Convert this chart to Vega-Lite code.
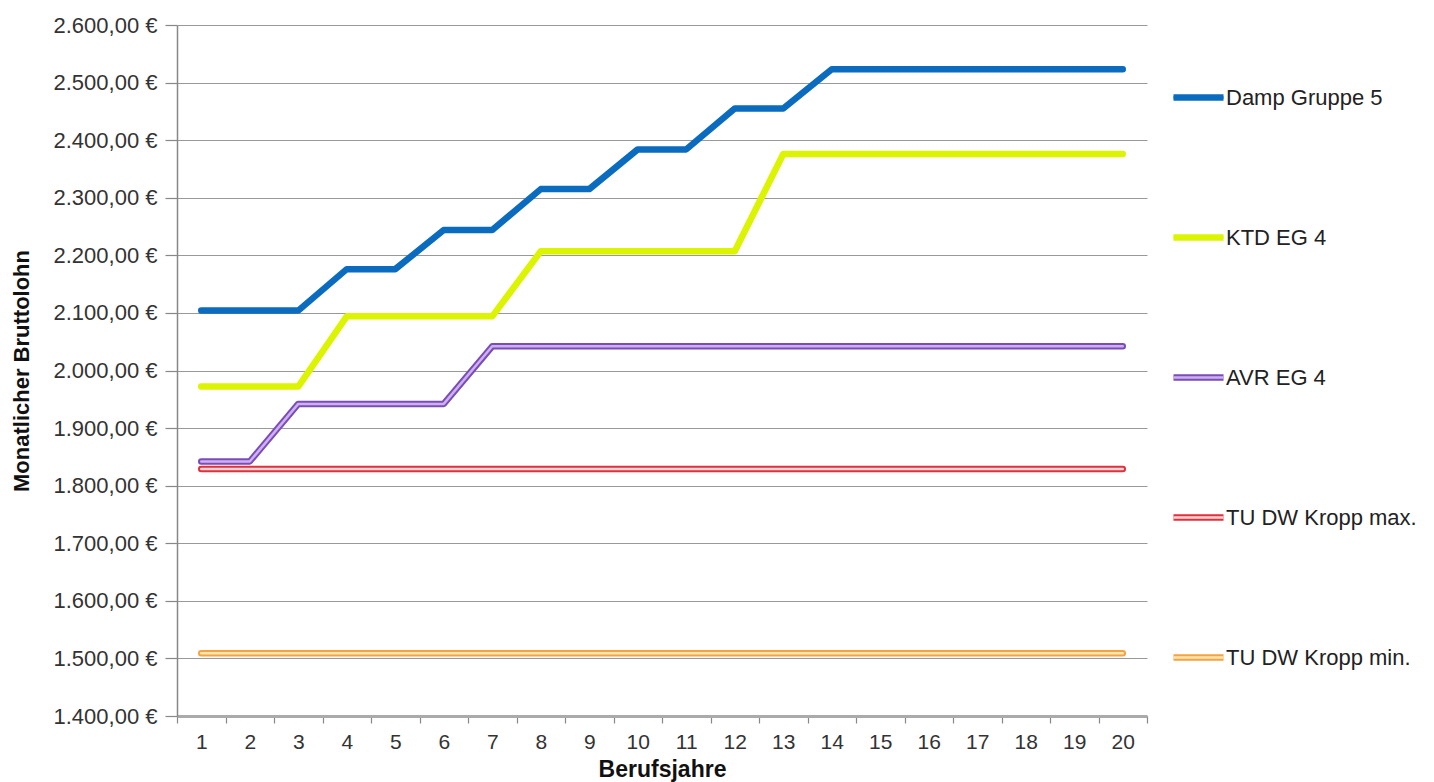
{
  "$schema": "https://vega.github.io/schema/vega-lite/v6.json",
  "width": 970,
  "height": 691,
  "autosize": {"type": "none"},
  "padding": {"left": 177, "top": 25, "right": 287, "bottom": 66},
  "background": "white",
  "config": {
    "font": "Liberation Sans",
    "view": {"stroke": null},
    "axis": {"labelFont": "Liberation Sans", "titleFont": "Liberation Sans", "labelColor": "#333333", "titleColor": "#111111"}
  },
  "data": {
    "values": [
      {"jahr": 1, "serie": "Damp Gruppe 5", "wert": 2104},
      {"jahr": 2, "serie": "Damp Gruppe 5", "wert": 2104},
      {"jahr": 3, "serie": "Damp Gruppe 5", "wert": 2104},
      {"jahr": 4, "serie": "Damp Gruppe 5", "wert": 2176},
      {"jahr": 5, "serie": "Damp Gruppe 5", "wert": 2176},
      {"jahr": 6, "serie": "Damp Gruppe 5", "wert": 2244},
      {"jahr": 7, "serie": "Damp Gruppe 5", "wert": 2244},
      {"jahr": 8, "serie": "Damp Gruppe 5", "wert": 2315},
      {"jahr": 9, "serie": "Damp Gruppe 5", "wert": 2315},
      {"jahr": 10, "serie": "Damp Gruppe 5", "wert": 2384},
      {"jahr": 11, "serie": "Damp Gruppe 5", "wert": 2384},
      {"jahr": 12, "serie": "Damp Gruppe 5", "wert": 2455},
      {"jahr": 13, "serie": "Damp Gruppe 5", "wert": 2455},
      {"jahr": 14, "serie": "Damp Gruppe 5", "wert": 2523},
      {"jahr": 15, "serie": "Damp Gruppe 5", "wert": 2523},
      {"jahr": 16, "serie": "Damp Gruppe 5", "wert": 2523},
      {"jahr": 17, "serie": "Damp Gruppe 5", "wert": 2523},
      {"jahr": 18, "serie": "Damp Gruppe 5", "wert": 2523},
      {"jahr": 19, "serie": "Damp Gruppe 5", "wert": 2523},
      {"jahr": 20, "serie": "Damp Gruppe 5", "wert": 2523},
      {"jahr": 1, "serie": "KTD EG 4", "wert": 1972},
      {"jahr": 2, "serie": "KTD EG 4", "wert": 1972},
      {"jahr": 3, "serie": "KTD EG 4", "wert": 1972},
      {"jahr": 4, "serie": "KTD EG 4", "wert": 2094},
      {"jahr": 5, "serie": "KTD EG 4", "wert": 2094},
      {"jahr": 6, "serie": "KTD EG 4", "wert": 2094},
      {"jahr": 7, "serie": "KTD EG 4", "wert": 2094},
      {"jahr": 8, "serie": "KTD EG 4", "wert": 2207},
      {"jahr": 9, "serie": "KTD EG 4", "wert": 2207},
      {"jahr": 10, "serie": "KTD EG 4", "wert": 2207},
      {"jahr": 11, "serie": "KTD EG 4", "wert": 2207},
      {"jahr": 12, "serie": "KTD EG 4", "wert": 2207},
      {"jahr": 13, "serie": "KTD EG 4", "wert": 2376},
      {"jahr": 14, "serie": "KTD EG 4", "wert": 2376},
      {"jahr": 15, "serie": "KTD EG 4", "wert": 2376},
      {"jahr": 16, "serie": "KTD EG 4", "wert": 2376},
      {"jahr": 17, "serie": "KTD EG 4", "wert": 2376},
      {"jahr": 18, "serie": "KTD EG 4", "wert": 2376},
      {"jahr": 19, "serie": "KTD EG 4", "wert": 2376},
      {"jahr": 20, "serie": "KTD EG 4", "wert": 2376},
      {"jahr": 1, "serie": "AVR EG 4", "wert": 1842},
      {"jahr": 2, "serie": "AVR EG 4", "wert": 1842},
      {"jahr": 3, "serie": "AVR EG 4", "wert": 1942},
      {"jahr": 4, "serie": "AVR EG 4", "wert": 1942},
      {"jahr": 5, "serie": "AVR EG 4", "wert": 1942},
      {"jahr": 6, "serie": "AVR EG 4", "wert": 1942},
      {"jahr": 7, "serie": "AVR EG 4", "wert": 2042},
      {"jahr": 8, "serie": "AVR EG 4", "wert": 2042},
      {"jahr": 9, "serie": "AVR EG 4", "wert": 2042},
      {"jahr": 10, "serie": "AVR EG 4", "wert": 2042},
      {"jahr": 11, "serie": "AVR EG 4", "wert": 2042},
      {"jahr": 12, "serie": "AVR EG 4", "wert": 2042},
      {"jahr": 13, "serie": "AVR EG 4", "wert": 2042},
      {"jahr": 14, "serie": "AVR EG 4", "wert": 2042},
      {"jahr": 15, "serie": "AVR EG 4", "wert": 2042},
      {"jahr": 16, "serie": "AVR EG 4", "wert": 2042},
      {"jahr": 17, "serie": "AVR EG 4", "wert": 2042},
      {"jahr": 18, "serie": "AVR EG 4", "wert": 2042},
      {"jahr": 19, "serie": "AVR EG 4", "wert": 2042},
      {"jahr": 20, "serie": "AVR EG 4", "wert": 2042},
      {"jahr": 1, "serie": "TU DW Kropp max.", "wert": 1829},
      {"jahr": 2, "serie": "TU DW Kropp max.", "wert": 1829},
      {"jahr": 3, "serie": "TU DW Kropp max.", "wert": 1829},
      {"jahr": 4, "serie": "TU DW Kropp max.", "wert": 1829},
      {"jahr": 5, "serie": "TU DW Kropp max.", "wert": 1829},
      {"jahr": 6, "serie": "TU DW Kropp max.", "wert": 1829},
      {"jahr": 7, "serie": "TU DW Kropp max.", "wert": 1829},
      {"jahr": 8, "serie": "TU DW Kropp max.", "wert": 1829},
      {"jahr": 9, "serie": "TU DW Kropp max.", "wert": 1829},
      {"jahr": 10, "serie": "TU DW Kropp max.", "wert": 1829},
      {"jahr": 11, "serie": "TU DW Kropp max.", "wert": 1829},
      {"jahr": 12, "serie": "TU DW Kropp max.", "wert": 1829},
      {"jahr": 13, "serie": "TU DW Kropp max.", "wert": 1829},
      {"jahr": 14, "serie": "TU DW Kropp max.", "wert": 1829},
      {"jahr": 15, "serie": "TU DW Kropp max.", "wert": 1829},
      {"jahr": 16, "serie": "TU DW Kropp max.", "wert": 1829},
      {"jahr": 17, "serie": "TU DW Kropp max.", "wert": 1829},
      {"jahr": 18, "serie": "TU DW Kropp max.", "wert": 1829},
      {"jahr": 19, "serie": "TU DW Kropp max.", "wert": 1829},
      {"jahr": 20, "serie": "TU DW Kropp max.", "wert": 1829},
      {"jahr": 1, "serie": "TU DW Kropp min.", "wert": 1509},
      {"jahr": 2, "serie": "TU DW Kropp min.", "wert": 1509},
      {"jahr": 3, "serie": "TU DW Kropp min.", "wert": 1509},
      {"jahr": 4, "serie": "TU DW Kropp min.", "wert": 1509},
      {"jahr": 5, "serie": "TU DW Kropp min.", "wert": 1509},
      {"jahr": 6, "serie": "TU DW Kropp min.", "wert": 1509},
      {"jahr": 7, "serie": "TU DW Kropp min.", "wert": 1509},
      {"jahr": 8, "serie": "TU DW Kropp min.", "wert": 1509},
      {"jahr": 9, "serie": "TU DW Kropp min.", "wert": 1509},
      {"jahr": 10, "serie": "TU DW Kropp min.", "wert": 1509},
      {"jahr": 11, "serie": "TU DW Kropp min.", "wert": 1509},
      {"jahr": 12, "serie": "TU DW Kropp min.", "wert": 1509},
      {"jahr": 13, "serie": "TU DW Kropp min.", "wert": 1509},
      {"jahr": 14, "serie": "TU DW Kropp min.", "wert": 1509},
      {"jahr": 15, "serie": "TU DW Kropp min.", "wert": 1509},
      {"jahr": 16, "serie": "TU DW Kropp min.", "wert": 1509},
      {"jahr": 17, "serie": "TU DW Kropp min.", "wert": 1509},
      {"jahr": 18, "serie": "TU DW Kropp min.", "wert": 1509},
      {"jahr": 19, "serie": "TU DW Kropp min.", "wert": 1509},
      {"jahr": 20, "serie": "TU DW Kropp min.", "wert": 1509}
    ]
  },
  "encoding": {
    "x": {
      "field": "jahr", "type": "ordinal", "title": "Berufsjahre",
      "scale": {"paddingInner": 0, "paddingOuter": 0},
      "axis": {
        "labelAngle": 0, "labelFontSize": 21, "labelPadding": 8,
        "titleFontSize": 23, "titleFontWeight": "bold", "titlePadding": 6,
        "tickBand": "extent", "tickSize": 7, "tickColor": "#888888", "tickWidth": 1.2,
        "domainColor": "#aaaaaa", "domainWidth": 3, "grid": false
      }
    },
    "y": {
      "field": "wert", "type": "quantitative", "title": "Monatlicher Bruttolohn",
      "scale": {"domain": [1400, 2600], "nice": false, "zero": false},
      "axis": {
        "values": [1400, 1500, 1600, 1700, 1800, 1900, 2000, 2100, 2200, 2300, 2400, 2500, 2600],
        "labelExpr": "replace(replace(replace(format(datum.value, ',.2f'), ',', '#'), '.', ','), '#', '.') + ' €'",
        "labelFontSize": 22, "labelPadding": 8,
        "titleFontSize": 22, "titleFontWeight": "bold", "titlePadding": 20,
        "tickSize": 12, "tickColor": "#888888", "tickWidth": 1.2,
        "domainColor": "#888888", "domainWidth": 1.5,
        "grid": true, "gridColor": "#999999", "gridWidth": 1.2
      }
    }
  },
  "layer": [
    {
      "mark": {"type": "line", "strokeWidth": 6.5, "strokeCap": "round", "strokeJoin": "round"},
      "encoding": {
        "color": {
          "field": "serie", "type": "nominal",
          "scale": {
            "domain": ["Damp Gruppe 5", "KTD EG 4", "AVR EG 4", "TU DW Kropp max.", "TU DW Kropp min."],
            "range": ["#0b6cbf", "#dcf400", "#7b4cb6", "#e0303c", "#f3a33f"]
          },
          "legend": {
            "title": null, "orient": "none", "legendX": 993, "legendY": 44, "zindex": 1,
            "symbolType": "stroke", "symbolSize": 2500, "symbolStrokeWidth": 6.5,
            "labelFontSize": 22, "labelColor": "#222222", "labelOpacity": 0, "labelOffset": 1,
            "rowPadding": 98, "labelLimit": 300
          }
        }
      }
    },
    {
      "mark": {"type": "line", "strokeWidth": 2.5, "strokeCap": "round", "strokeJoin": "round"},
      "encoding": {
        "stroke": {
          "field": "serie", "type": "nominal",
          "sort": ["Damp Gruppe 5", "KTD EG 4", "AVR EG 4", "TU DW Kropp max.", "TU DW Kropp min."],
          "scale": {
            "range": ["#0b6cbf", "#dcf400", "#cdb0f2", "#ffd6d6", "#fde6b4"]
          },
          "legend": {
            "title": null, "orient": "none", "legendX": 995, "legendY": 46, "zindex": 2,
            "symbolType": "stroke", "symbolSize": 2500, "symbolStrokeWidth": 2.5,
            "labelFontSize": 22, "labelColor": "#222222", "labelOffset": 1,
            "rowPadding": 102, "labelLimit": 300
          }
        }
      }
    }
  ]
}
